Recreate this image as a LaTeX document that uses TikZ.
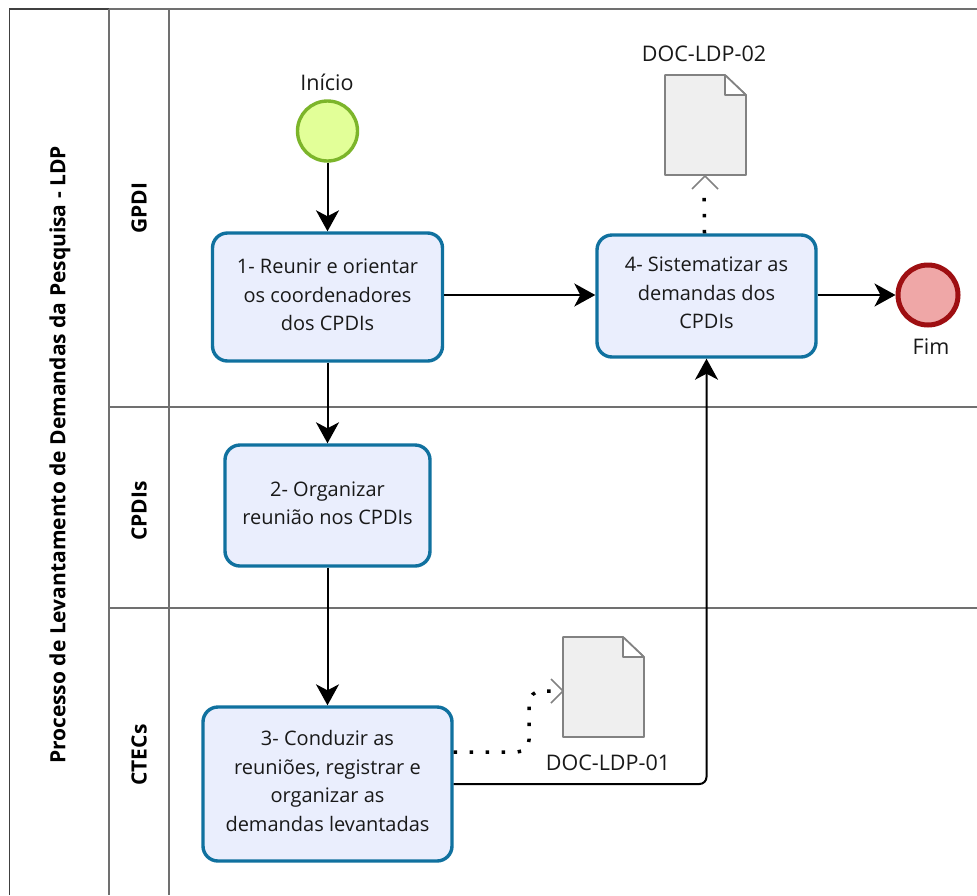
\documentclass[tikz,border=0pt]{standalone}
\usepackage{fontspec}
\setmainfont{Open Sans}
\usetikzlibrary{arrows.meta,shapes.misc}
\definecolor{taskline}{HTML}{10719F}
\definecolor{taskfill}{HTML}{EAEEFD}
\definecolor{lanegray}{HTML}{707070}
\definecolor{docgray}{HTML}{828282}
\definecolor{docfill}{HTML}{EFEFEF}
\definecolor{startline}{HTML}{7CB52A}
\definecolor{startfill}{HTML}{E2FF98}
\definecolor{endline}{HTML}{9E0F12}
\definecolor{endfill}{HTML}{EFA7A7}
\tikzset{
 task/.style={draw=taskline,fill=taskfill,line width=3.4pt,rounded corners=15pt,inner sep=0pt,align=center,font=\fontsize{20}{28.5}\selectfont,text=black!90},
 flow/.style={draw=black,line width=2pt,-{Stealth[length=21pt,width=23pt,inset=6pt]}},
 assoc/.style={draw=black,line width=3.5pt,dash pattern=on 3.5pt off 12.5pt},
 barb/.style={draw=docgray,line width=1.7pt},
 lanetxt/.style={rotate=90,font=\fontsize{21}{24}\selectfont\bfseries},
 caption/.style={font=\fontsize{21.5}{24}\selectfont,text=black!90},
 lane/.style={draw=lanegray,line width=1.7pt},
 docbody/.style={draw=docgray,fill=docfill,line width=1.7pt,line join=round}
}
\newcommand{\liftby}[1]{\rule[-#1pt]{0pt}{0pt}}
\begin{document}
\begin{tikzpicture}[x=1pt,y=-1pt]
\useasboundingbox (0,0) rectangle (977,895);
\fill[white] (0,0) rectangle (977,895);
% pool and lanes
\draw[lane] (109,9) -- (977,9);
\draw[lane] (169,9) -- (169,895);
\draw[lane] (109,407) -- (977,407);
\draw[lane] (109,608) -- (977,608);
\draw[draw=black!75,line width=1.7pt] (9.5,895) -- (9.5,9) -- (109,9);
\draw[lane] (109,9) -- (109,895);
\node[lanetxt] (title) at (60,455) {Processo de Levantamento de Demandas da Pesquisa - LDP};
\node[lanetxt] (gpdi) at (139,208) {GPDI};
\node[lanetxt] (cpdis) at (139,511) {CPDIs};
\node[lanetxt] (ctecs) at (139,755) {CTECs};
% events
\node[circle,draw=startline,fill=startfill,minimum size=60pt,inner sep=0pt,line width=3.4pt] (ini) at (327.5,131) {};
\node[caption] (initxt) at (327,82) {Início};
\node[circle,draw=endline,fill=endfill,minimum size=60pt,inner sep=0pt,line width=5pt] (fim) at (928,295) {};
\node[caption] (fimtxt) at (931,347) {Fim};
% tasks
\node[task,minimum width=230pt,minimum height=128pt] (t1) at (327.5,297) {1- Reunir e orientar\\os coordenadores\\dos CPDIs\liftby{4}};
\node[task,minimum width=205pt,minimum height=121pt] (t2) at (327.5,505.5) {2- Organizar\\reunião nos CPDIs\liftby{5}};
\node[task,minimum width=249pt,minimum height=154pt] (t3) at (327.5,784) {3- Conduzir as\\reuniões, registrar e\\organizar as\\demandas levantadas\liftby{6}};
\node[task,minimum width=219pt,minimum height=122pt] (t4) at (706.5,296) {4- Sistematizar as\\demandas dos\\CPDIs\liftby{6}};
% documents
\coordinate (d1w) at (563,691);
\coordinate (d2s) at (705,176);
\draw[docbody] (563,637) -- (623,637) -- (644,657) -- (644,737) -- (563,737) -- cycle;
\draw[docbody,fill=white] (623,637) -- (623,657) -- (644,657) -- cycle;
\draw[docbody] (665,75) -- (725,75) -- (746,95) -- (746,175) -- (665,175) -- cycle;
\draw[docbody,fill=white] (725,75) -- (725,95) -- (746,95) -- cycle;
\node[caption] (d1txt) at (608,763) {DOC-LDP-01};
\node[caption] (d2txt) at (704,54) {DOC-LDP-02};
% sequence flows
\draw[flow] (ini) -- (t1);
\draw[flow] (t1) -- (t2);
\draw[flow] (t2) -- (t3);
\draw[flow] ([yshift=2pt]t1.east) -- ([yshift=1pt]t4.west);
\draw[flow] ([yshift=1pt]t4.east) -- (fim);
\draw[flow,rounded corners=7pt] (t3.east) -- (t3.east -| t4.south) -- (t4.south);
% associations
\draw[assoc,rounded corners=12pt] ([yshift=32pt]t3.east) -| (529,691) -- (d1w);
\draw[assoc] ([xshift=-2pt]t4.north) -- (704,189);
\draw[barb] (551,679) -- (d1w) -- (551,703);
\draw[barb] (692,189) -- (d2s) -- (718,189);
\end{tikzpicture}
\end{document}
